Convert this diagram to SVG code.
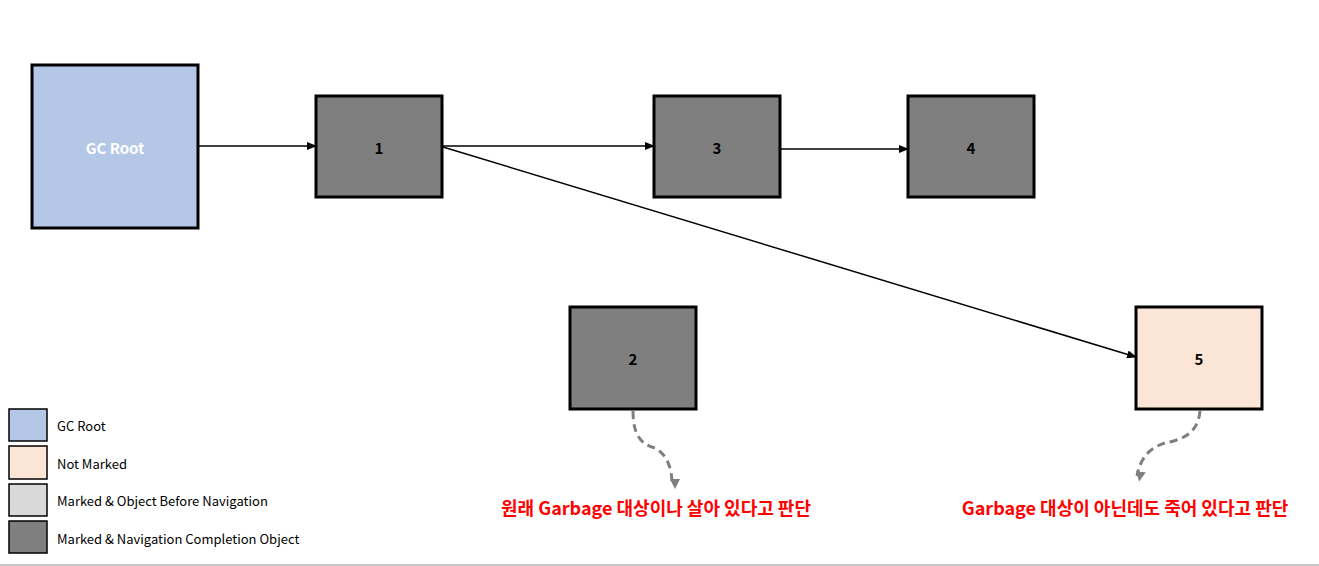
<svg xmlns="http://www.w3.org/2000/svg" width="1319" height="566" viewBox="0 0 1319 566">
<style>
.n{stroke:#000;stroke-width:3}
.dk{fill:#7f7f7f}
.t{font-family:"Noto Sans CJK KR","Noto Sans",sans-serif;font-weight:bold;font-size:15px;text-anchor:middle;dominant-baseline:central}
.lg{font-family:"Noto Sans CJK KR","Noto Sans",sans-serif;font-size:13px;dominant-baseline:central}
.lb{stroke:#000;stroke-width:1.5}
.e{stroke:#000;stroke-width:1.5;fill:none;marker-end:url(#a)}
.d{stroke:#7f7f7f;stroke-width:3;fill:none;stroke-dasharray:8 5;marker-end:url(#g)}
.r{font-family:"Noto Sans CJK KR",sans-serif;font-weight:bold;font-size:18px;fill:#ff0000;text-anchor:middle;dominant-baseline:central}
</style>
<defs>
<marker id="a" markerWidth="10" markerHeight="8" refX="9" refY="4" orient="auto" markerUnits="userSpaceOnUse"><path d="M0,0L10,4L0,8z"/></marker>
<marker id="g" markerWidth="10" markerHeight="10" refX="5" refY="8" orient="auto" markerUnits="userSpaceOnUse" viewBox="0 0 10 10"><path d="M0,0L10,5L0,10z" fill="#7f7f7f" transform="rotate(0)"/></marker>
</defs>
<rect width="1319" height="566" fill="#fff"/>
<line x1="0" y1="565" x2="1319" y2="565" stroke="#c8c8c8" stroke-width="2"/>
<g id="connectors">
<line class="e" x1="199" y1="146" x2="316" y2="146"/>
<line class="e" x1="443" y1="146" x2="654" y2="146"/>
<line class="e" x1="781" y1="149" x2="908" y2="149"/>
<line class="e" x1="443" y1="147" x2="1136" y2="357"/>
<path class="d" d="M633,411 C633,440 645,445 655,448 C668,455 672,470 672,484"/>
<path class="d" d="M1200,411 C1198,435 1180,440 1165,443 C1148,448 1140,460 1137,476"/>
</g>
<g id="gcroot"><rect class="n" x="32" y="65" width="166" height="163" fill="#b4c7e7"/><text class="t" x="115" y="147" fill="#fff">GC Root</text></g>
<g id="n1"><rect class="n dk" x="316" y="96" width="126" height="101"/><text class="t" x="379" y="147">1</text></g>
<g id="n3"><rect class="n dk" x="654" y="96" width="126" height="101"/><text class="t" x="717" y="147">3</text></g>
<g id="n4"><rect class="n dk" x="908" y="96" width="126" height="101"/><text class="t" x="971" y="147">4</text></g>
<g id="n2"><rect class="n dk" x="570" y="307" width="126" height="102"/><text class="t" x="633" y="358">2</text></g>
<g id="n5"><rect class="n" x="1136" y="307" width="126" height="102" fill="#fbe5d6"/><text class="t" x="1199" y="358">5</text></g>
<g id="legend">
<rect class="lb" x="9" y="409" width="38" height="32" fill="#b4c7e7"/><text class="lg" x="57" y="425">GC Root</text>
<rect class="lb" x="9" y="446" width="38" height="33" fill="#fbe5d6"/><text class="lg" x="57" y="463">Not Marked</text>
<rect class="lb" x="9" y="484" width="38" height="32" fill="#d9d9d9"/><text class="lg" x="57" y="500">Marked &amp; Object Before Navigation</text>
<rect class="lb" x="9" y="521" width="38" height="32" fill="#7f7f7f"/><text class="lg" x="57" y="538">Marked &amp; Navigation Completion Object</text>
</g>
<g id="notes">
<text class="r" x="656" y="507">원래 Garbage 대상이나 살아 있다고 판단</text>
<text class="r" x="1125" y="507">Garbage 대상이 아닌데도 죽어 있다고 판단</text>
</g>
</svg>
